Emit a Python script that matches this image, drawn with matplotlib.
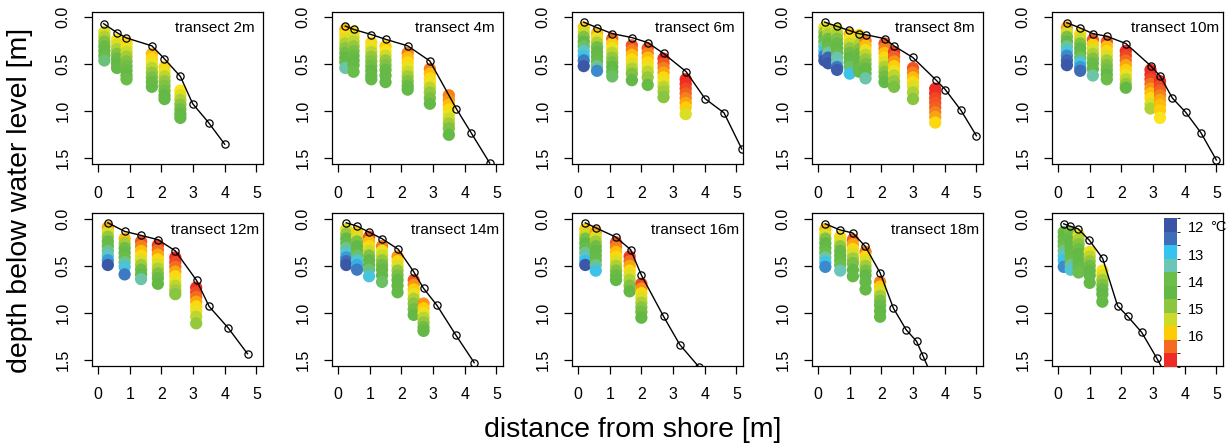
import numpy as np
import matplotlib.pyplot as plt
from matplotlib.colors import LinearSegmentedColormap, ListedColormap, BoundaryNorm

plt.rcParams['font.family'] = ['Liberation Sans', 'DejaVu Sans']

# --------------------
# colour scale (legend blocks)
# --------------------
legend_edges = [11.67, 12.17, 12.67, 13.17, 13.67, 14.17, 14.67, 15.17, 15.67, 16.17, 16.67, 17.17]
legend_colors = ['#3A53A4', '#3F6EB8', '#35C3F0', '#6CC6B5', '#6CBE4B', '#63B946',
                 '#8CC540', '#CBDB2A', '#FFCB05', '#F26B21', '#EE2A24']
legend_ticks = [12, 13, 14, 15, 16]

# dot colours: same anchors + the bright yellow seen in the profiles
ramp_temps = [11.92, 12.42, 12.92, 13.42, 13.92, 14.42, 14.92, 15.42, 15.7, 15.92, 16.42, 16.92]
ramp_colors = ['#3A53A4', '#3F6EB8', '#35C3F0', '#6CC6B5', '#6CBE4B', '#63B946',
               '#8CC540', '#CBDB2A', '#FBE41A', '#FFCB05', '#F26B21', '#EE2A24']

# --------------------
# transect 2m
# --------------------
t2_prof_x = [0.18, 0.60, 0.89, 1.70, 2.09, 2.60, 2.99, 3.49, 4.00]
t2_prof_z = [0.07, 0.165, 0.22, 0.305, 0.44, 0.63, 0.92, 1.12, 1.35]
t2_col_x = [0.20, 0.60, 0.90, 1.70, 2.10, 2.60]
t2_col_z = [[0.16, 0.21, 0.26, 0.31, 0.36, 0.41, 0.46],
            [0.24, 0.29, 0.34, 0.39, 0.44, 0.49, 0.54],
            [0.27, 0.32, 0.37, 0.42, 0.47, 0.52, 0.57, 0.62, 0.66],
            [0.39, 0.44, 0.49, 0.54, 0.59, 0.64, 0.69, 0.74],
            [0.53, 0.58, 0.63, 0.68, 0.73, 0.78, 0.83, 0.87],
            [0.78, 0.83, 0.88, 0.93, 0.98, 1.03, 1.07]]
t2_col_t = [[15.5, 15.2, 14.8, 14.5, 14.3, 14.2, 13.7],
            [15.7, 15.5, 15.2, 14.8, 14.5, 14.4, 14.3],
            [15.8, 15.6, 15.4, 15.1, 14.8, 14.6, 14.5, 14.4, 14.0],
            [16.0, 15.8, 15.6, 15.3, 15.0, 14.7, 14.5, 14.3],
            [15.8, 15.6, 15.3, 15.0, 14.8, 14.6, 14.4, 14.3],
            [15.7, 15.5, 15.2, 14.9, 14.6, 14.4, 14.3]]

# --------------------
# transect 4m
# --------------------
t4_prof_x = [0.23, 0.49, 1.05, 1.50, 2.20, 2.90, 3.74, 4.20, 4.79]
t4_prof_z = [0.095, 0.13, 0.185, 0.235, 0.305, 0.466, 0.975, 1.227, 1.55]
t4_col_x = [0.23, 0.49, 1.05, 1.50, 2.20, 2.90, 3.50]
t4_col_z = [[0.13, 0.18, 0.23, 0.28, 0.33, 0.38, 0.43, 0.48, 0.54],
            [0.16, 0.21, 0.26, 0.31, 0.36, 0.41, 0.46, 0.51, 0.58],
            [0.27, 0.32, 0.37, 0.42, 0.47, 0.52, 0.57, 0.62, 0.66],
            [0.31, 0.36, 0.41, 0.46, 0.51, 0.56, 0.62, 0.69],
            [0.38, 0.43, 0.48, 0.53, 0.58, 0.63, 0.68, 0.73, 0.77],
            [0.55, 0.60, 0.65, 0.70, 0.75, 0.80, 0.86, 0.92],
            [0.83, 0.88, 0.93, 0.98, 1.03, 1.08, 1.13, 1.18, 1.25]]
t4_col_t = [[16.0, 15.8, 15.5, 15.2, 14.9, 14.6, 14.4, 14.3, 13.5],
            [15.8, 15.5, 15.3, 15.0, 14.7, 14.5, 14.4, 14.3, 14.0],
            [15.8, 15.6, 15.3, 15.0, 14.8, 14.6, 14.4, 14.3, 14.3],
            [15.9, 15.7, 15.4, 15.0, 14.8, 14.5, 14.3, 14.3],
            [16.3, 16.0, 15.8, 15.6, 15.4, 15.1, 14.8, 14.5, 14.3],
            [16.3, 16.0, 15.8, 15.6, 15.3, 15.0, 14.7, 14.3],
            [16.3, 16.2, 16.0, 15.8, 15.6, 15.4, 15.1, 14.8, 14.3]]

# --------------------
# transect 6m
# --------------------
t6_prof_x = [0.18, 0.60, 1.08, 1.70, 2.20, 2.70, 3.41, 4.01, 4.61, 5.17]
t6_prof_z = [0.053, 0.112, 0.175, 0.217, 0.27, 0.386, 0.578, 0.866, 1.017, 1.40]
t6_col_x = [0.18, 0.60, 1.08, 1.70, 2.20, 2.70, 3.40]
t6_col_z = [[0.11, 0.16, 0.21, 0.26, 0.31, 0.36, 0.41, 0.46, 0.52],
            [0.17, 0.22, 0.27, 0.32, 0.37, 0.42, 0.47, 0.52, 0.57],
            [0.23, 0.28, 0.33, 0.38, 0.43, 0.48, 0.53, 0.58, 0.63],
            [0.30, 0.35, 0.40, 0.45, 0.50, 0.55, 0.60, 0.67],
            [0.33, 0.38, 0.43, 0.48, 0.53, 0.58, 0.64, 0.72],
            [0.44, 0.49, 0.54, 0.59, 0.64, 0.69, 0.74, 0.79, 0.85],
            [0.66, 0.71, 0.76, 0.81, 0.86, 0.91, 0.96, 1.03]]
t6_col_t = [[15.9, 15.4, 14.8, 14.4, 13.8, 13.3, 13.0, 12.5, 12.0],
            [16.0, 15.6, 15.2, 14.6, 14.4, 14.3, 14.2, 13.6, 12.6],
            [16.5, 15.9, 15.6, 15.3, 15.0, 14.7, 14.4, 14.2, 13.8],
            [16.6, 16.3, 16.0, 15.8, 15.5, 15.2, 14.8, 14.4],
            [16.6, 16.3, 16.0, 15.8, 15.6, 15.3, 15.0, 14.5],
            [16.9, 16.6, 16.3, 16.1, 15.8, 15.6, 15.3, 15.1, 14.9],
            [17.0, 16.9, 16.7, 16.5, 16.3, 16.1, 15.9, 15.5]]

# --------------------
# transect 8m
# --------------------
t8_prof_x = [0.21, 0.60, 0.97, 1.29, 1.50, 2.10, 2.41, 2.99, 3.72, 4.02, 4.51, 5.00]
t8_prof_z = [0.053, 0.098, 0.14, 0.175, 0.186, 0.228, 0.308, 0.428, 0.666, 0.77, 0.988, 1.26]
t8_col_x = [0.20, 0.32, 0.60, 1.00, 1.30, 1.50, 2.10, 2.40, 3.00, 3.70]
t8_col_z = [[0.11, 0.16, 0.21, 0.26, 0.31, 0.36, 0.41, 0.46],
            [0.13, 0.18, 0.23, 0.28, 0.33, 0.38, 0.43, 0.49],
            [0.13, 0.18, 0.23, 0.28, 0.33, 0.38, 0.43, 0.48, 0.53, 0.56],
            [0.18, 0.23, 0.28, 0.33, 0.38, 0.43, 0.48, 0.53, 0.60],
            [0.19, 0.24, 0.29, 0.34, 0.39, 0.44, 0.49, 0.54, 0.58],
            [0.25, 0.30, 0.35, 0.40, 0.45, 0.50, 0.55, 0.60, 0.65],
            [0.28, 0.33, 0.38, 0.43, 0.48, 0.53, 0.58, 0.63, 0.69],
            [0.37, 0.42, 0.47, 0.52, 0.57, 0.62, 0.68, 0.74],
            [0.54, 0.59, 0.64, 0.69, 0.74, 0.80, 0.87],
            [0.76, 0.81, 0.86, 0.91, 0.96, 1.01, 1.06, 1.12]]
t8_col_t = [[15.6, 15.0, 14.5, 14.0, 13.5, 13.0, 12.5, 12.0],
            [15.5, 15.2, 14.6, 14.3, 14.0, 13.5, 12.3, 12.0],
            [15.5, 15.2, 14.8, 14.5, 14.3, 14.2, 13.5, 13.4, 12.5, 12.1],
            [16.0, 15.7, 15.4, 15.0, 14.6, 14.4, 14.3, 13.8, 13.0],
            [15.8, 15.5, 15.2, 14.8, 14.5, 14.3, 14.3, 14.2, 14.2],
            [16.3, 16.0, 15.6, 15.3, 15.0, 14.7, 14.4, 14.3, 13.5],
            [16.6, 16.3, 16.0, 15.8, 15.5, 15.2, 14.9, 14.6, 14.4],
            [16.8, 16.5, 16.2, 15.9, 15.6, 15.3, 15.0, 14.7],
            [16.6, 16.3, 16.0, 15.8, 15.5, 15.2, 14.9],
            [17.0, 16.9, 16.7, 16.6, 16.5, 16.3, 16.1, 15.8]]

# --------------------
# transect 10m
# --------------------
t10_prof_x = [0.28, 0.68, 1.10, 1.54, 2.14, 2.92, 3.22, 3.61, 4.03, 4.51, 5.00]
t10_prof_z = [0.06, 0.112, 0.175, 0.203, 0.28, 0.515, 0.624, 0.859, 1.01, 1.227, 1.518]
t10_col_x = [0.28, 0.70, 1.10, 1.54, 2.14, 2.92, 3.22]
t10_col_z = [[0.11, 0.16, 0.21, 0.26, 0.31, 0.36, 0.41, 0.46, 0.51],
             [0.18, 0.23, 0.28, 0.33, 0.38, 0.43, 0.48, 0.53, 0.57],
             [0.24, 0.29, 0.34, 0.39, 0.44, 0.49, 0.55, 0.62],
             [0.26, 0.31, 0.36, 0.41, 0.46, 0.51, 0.56, 0.61, 0.66],
             [0.36, 0.41, 0.46, 0.51, 0.56, 0.61, 0.66, 0.71, 0.75],
             [0.56, 0.61, 0.66, 0.71, 0.76, 0.81, 0.86, 0.92, 0.97],
             [0.68, 0.73, 0.78, 0.83, 0.88, 0.93, 0.99, 1.07]]
t10_col_t = [[16.1, 15.5, 14.7, 14.3, 13.6, 13.1, 12.6, 12.3, 12.0],
             [15.8, 15.4, 14.8, 14.4, 14.3, 13.8, 13.1, 12.7, 12.4],
             [16.6, 15.9, 15.5, 15.2, 14.8, 14.5, 14.3, 13.5],
             [16.6, 16.0, 15.8, 15.5, 15.1, 14.8, 14.6, 14.4, 14.0],
             [16.9, 16.7, 16.4, 16.1, 15.9, 15.6, 15.3, 15.0, 14.4],
             [17.0, 16.9, 16.7, 16.4, 16.2, 16.0, 15.8, 15.5, 15.2],
             [16.9, 16.7, 16.5, 16.3, 16.1, 16.0, 15.9, 15.7]]

# --------------------
# transect 12m
# --------------------
t12_prof_x = [0.31, 0.84, 1.36, 1.89, 2.44, 3.11, 3.51, 4.11, 4.72]
t12_prof_z = [0.042, 0.133, 0.176, 0.221, 0.34, 0.653, 0.931, 1.159, 1.433]
t12_col_x = [0.31, 0.84, 1.36, 1.89, 2.44, 3.10]
t12_col_z = [[0.09, 0.14, 0.19, 0.24, 0.29, 0.34, 0.39, 0.44, 0.49],
             [0.21, 0.26, 0.31, 0.36, 0.41, 0.46, 0.51, 0.59],
             [0.24, 0.29, 0.34, 0.39, 0.44, 0.49, 0.54, 0.59, 0.64],
             [0.28, 0.33, 0.38, 0.43, 0.48, 0.53, 0.58, 0.63, 0.69],
             [0.41, 0.46, 0.51, 0.56, 0.61, 0.66, 0.71, 0.76, 0.80],
             [0.73, 0.78, 0.83, 0.88, 0.93, 0.98, 1.04, 1.11]]
t12_col_t = [[16.1, 15.5, 15.0, 14.5, 14.2, 13.6, 13.3, 12.7, 12.0],
             [16.0, 15.1, 14.6, 14.3, 14.0, 13.6, 13.1, 12.5],
             [16.6, 16.3, 16.0, 15.8, 15.5, 15.1, 14.6, 14.3, 13.5],
             [16.8, 16.4, 16.1, 15.8, 15.5, 15.2, 14.8, 14.5, 14.4],
             [16.9, 16.7, 16.4, 16.1, 15.8, 15.6, 15.3, 15.1, 14.9],
             [16.9, 16.7, 16.4, 16.1, 15.8, 15.6, 15.3, 15.0]]

# --------------------
# transect 14m
# --------------------
t14_prof_x = [0.26, 0.60, 0.97, 1.39, 1.90, 2.39, 2.70, 3.12, 3.71, 4.30]
t14_prof_z = [0.042, 0.077, 0.14, 0.211, 0.323, 0.562, 0.738, 0.917, 1.229, 1.528]
t14_col_x = [0.26, 0.60, 0.98, 1.39, 1.88, 2.39, 2.70]
t14_col_z = [[0.11, 0.16, 0.21, 0.26, 0.31, 0.36, 0.41, 0.45, 0.49],
             [0.14, 0.19, 0.24, 0.29, 0.34, 0.39, 0.44, 0.49, 0.54],
             [0.19, 0.24, 0.29, 0.34, 0.39, 0.44, 0.49, 0.54, 0.61],
             [0.29, 0.34, 0.39, 0.44, 0.49, 0.54, 0.60, 0.67],
             [0.40, 0.45, 0.50, 0.55, 0.60, 0.65, 0.71, 0.78],
             [0.65, 0.70, 0.75, 0.80, 0.85, 0.90, 0.96, 1.02],
             [0.90, 0.95, 1.00, 1.05, 1.10, 1.15, 1.19]]
t14_col_t = [[15.5, 15.0, 14.4, 14.2, 13.6, 13.2, 12.7, 12.4, 12.0],
             [15.9, 15.5, 14.8, 14.4, 14.3, 13.8, 13.2, 12.8, 12.5],
             [16.6, 16.0, 15.8, 15.4, 14.8, 14.4, 14.3, 13.7, 13.1],
             [16.3, 15.6, 15.4, 15.0, 14.6, 14.4, 14.3, 13.8],
             [16.2, 15.8, 15.5, 15.0, 14.7, 14.4, 14.4, 14.3],
             [16.6, 16.2, 15.9, 15.6, 15.2, 14.9, 14.6, 14.4],
             [16.2, 15.9, 15.6, 15.3, 15.0, 14.6, 14.4]]

# --------------------
# transect 16m
# --------------------
t16_prof_x = [0.23, 0.56, 1.19, 1.66, 2.00, 2.70, 3.21, 3.81]
t16_prof_z = [0.042, 0.095, 0.193, 0.327, 0.597, 1.036, 1.335, 1.57]
t16_col_x = [0.23, 0.56, 1.20, 1.63, 2.00]
t16_col_z = [[0.11, 0.16, 0.21, 0.26, 0.31, 0.36, 0.41, 0.45, 0.49],
             [0.14, 0.19, 0.24, 0.29, 0.34, 0.39, 0.44, 0.49, 0.55],
             [0.25, 0.30, 0.35, 0.40, 0.45, 0.50, 0.55, 0.60, 0.65],
             [0.40, 0.45, 0.50, 0.55, 0.60, 0.65, 0.71, 0.77],
             [0.69, 0.74, 0.79, 0.84, 0.89, 0.94, 0.99, 1.05]]
t16_col_t = [[15.9, 15.4, 14.7, 14.4, 14.2, 13.6, 13.3, 12.9, 12.0],
             [16.1, 15.5, 15.1, 14.6, 14.4, 14.3, 14.2, 13.6, 13.0],
             [16.6, 16.3, 16.0, 15.8, 15.5, 15.2, 14.8, 14.5, 14.4],
             [16.8, 16.4, 16.1, 15.8, 15.5, 15.2, 14.8, 14.4],
             [16.7, 16.2, 15.8, 15.5, 15.2, 14.9, 14.6, 14.4]]

# --------------------
# transect 18m
# --------------------
t18_prof_x = [0.23, 0.68, 1.10, 1.49, 1.96, 2.38, 2.78, 3.11, 3.32, 3.70]
t18_prof_z = [0.053, 0.116, 0.151, 0.292, 0.573, 0.949, 1.177, 1.30, 1.46, 1.75]
t18_col_x = [0.23, 0.70, 1.10, 1.50, 1.96]
t18_col_z = [[0.11, 0.16, 0.21, 0.26, 0.31, 0.36, 0.41, 0.46, 0.51],
             [0.19, 0.24, 0.29, 0.34, 0.39, 0.44, 0.49, 0.55],
             [0.22, 0.27, 0.32, 0.37, 0.42, 0.47, 0.54, 0.61],
             [0.35, 0.40, 0.45, 0.50, 0.55, 0.60, 0.67, 0.75],
             [0.67, 0.72, 0.77, 0.82, 0.87, 0.92, 0.98, 1.04]]
t18_col_t = [[16.0, 15.5, 14.8, 14.4, 14.3, 14.0, 13.5, 13.0, 12.6],
             [15.8, 15.5, 15.0, 14.5, 14.3, 14.2, 13.9, 13.4],
             [16.5, 16.1, 15.8, 15.5, 15.1, 14.7, 14.4, 14.3],
             [16.3, 15.8, 15.5, 15.1, 14.7, 14.4, 14.3, 14.3],
             [16.3, 15.9, 15.5, 15.1, 14.7, 14.5, 14.4, 14.3]]

# --------------------
# transect 20m (no label, holds the colour legend)
# --------------------
t20_prof_x = [0.18, 0.37, 0.63, 0.99, 1.41, 1.88, 2.20, 2.64, 3.11, 3.50]
t20_prof_z = [0.053, 0.077, 0.105, 0.228, 0.421, 0.924, 1.036, 1.205, 1.475, 1.72]
t20_col_x = [0.18, 0.40, 0.65, 1.00, 1.40]
t20_col_z = [[0.14, 0.19, 0.24, 0.29, 0.34, 0.39, 0.44, 0.51],
             [0.14, 0.19, 0.24, 0.29, 0.34, 0.39, 0.44, 0.49, 0.54],
             [0.17, 0.22, 0.27, 0.32, 0.37, 0.42, 0.47, 0.52, 0.57],
             [0.35, 0.40, 0.45, 0.50, 0.55, 0.60, 0.68],
             [0.55, 0.60, 0.65, 0.70, 0.75, 0.80, 0.88]]
t20_col_t = [[14.5, 14.4, 14.3, 14.0, 13.6, 13.3, 13.0, 12.6],
             [14.8, 14.5, 14.4, 14.3, 14.3, 14.2, 14.0, 13.6, 13.2],
             [15.5, 15.2, 14.9, 14.6, 14.4, 14.3, 14.3, 14.2, 13.9],
             [15.6, 15.3, 15.0, 14.6, 14.4, 14.3, 14.3],
             [15.7, 15.5, 15.1, 14.8, 14.5, 14.4, 14.3]]

panel_labels = ['transect 2m', 'transect 4m', 'transect 6m', 'transect 8m', 'transect 10m',
                'transect 12m', 'transect 14m', 'transect 16m', 'transect 18m', '']
panels = [
    (t2_prof_x, t2_prof_z, t2_col_x, t2_col_z, t2_col_t),
    (t4_prof_x, t4_prof_z, t4_col_x, t4_col_z, t4_col_t),
    (t6_prof_x, t6_prof_z, t6_col_x, t6_col_z, t6_col_t),
    (t8_prof_x, t8_prof_z, t8_col_x, t8_col_z, t8_col_t),
    (t10_prof_x, t10_prof_z, t10_col_x, t10_col_z, t10_col_t),
    (t12_prof_x, t12_prof_z, t12_col_x, t12_col_z, t12_col_t),
    (t14_prof_x, t14_prof_z, t14_col_x, t14_col_z, t14_col_t),
    (t16_prof_x, t16_prof_z, t16_col_x, t16_col_z, t16_col_t),
    (t18_prof_x, t18_prof_z, t18_col_x, t18_col_z, t18_col_t),
    (t20_prof_x, t20_prof_z, t20_col_x, t20_col_z, t20_col_t),
]

# --------------------
# plotting
# --------------------
W, H = 1229, 447
fig = plt.figure(figsize=(W / 100, H / 100), dpi=100)

ramp_pos = [(t - ramp_temps[0]) / (ramp_temps[-1] - ramp_temps[0]) for t in ramp_temps]
cmap = LinearSegmentedColormap.from_list('temp', list(zip(ramp_pos, ramp_colors)))

box_left = [91.7, 331.7, 571.7, 811.7, 1051.7]
box_bottom = [164.0, 365.7]
box_w, box_h = 171.0, 152.5

for i, (px, pz, cx, cz, ct) in enumerate(panels):
    row, col = divmod(i, 5)
    ax = fig.add_axes([box_left[col] / W, 1 - box_bottom[row] / H, box_w / W, box_h / H])

    # temperature profiles, drawn top to bottom
    for x, zs, ts in zip(cx, cz, ct):
        ax.scatter([x] * len(zs), zs, c=ts, cmap=cmap,
                   vmin=ramp_temps[0], vmax=ramp_temps[-1],
                   s=78, linewidths=0, zorder=2)

    # shore profile
    ax.plot(px, pz, color='black', lw=1.0, marker='o', markersize=5.2,
            markerfacecolor='none', markeredgecolor='black', markeredgewidth=0.9, zorder=3)

    if panel_labels[i]:
        ax.text(3.7, 0.12, panel_labels[i], ha='center', va='center', fontsize=11)

    ax.set_xlim(-0.2, 5.2)
    ax.set_ylim(1.56, -0.06)
    ax.set_xticks([0, 1, 2, 3, 4, 5])
    ax.set_yticks([0.0, 0.5, 1.0, 1.5])
    ax.set_yticklabels(['0.0', '0.5', '1.0', '1.5'])
    ax.tick_params(direction='out', length=5.5, width=0.9, labelsize=11.5)
    ax.tick_params(axis='x', pad=10)
    ax.tick_params(axis='y', labelrotation=90, pad=9.5)
    for lab in ax.get_yticklabels():
        lab.set_va('center')
    for sp in ax.spines.values():
        sp.set_linewidth(0.9)

    if i == 9:
        cax = fig.add_axes([1164 / W, 1 - 367 / H, 13 / W, 149 / H])
        lcmap = ListedColormap(legend_colors)
        norm = BoundaryNorm(legend_edges, lcmap.N)
        cb = fig.colorbar(plt.cm.ScalarMappable(norm=norm, cmap=lcmap), cax=cax,
                          ticks=legend_ticks, spacing='proportional')
        cb.outline.set_visible(False)
        cax.invert_yaxis()
        cax.tick_params(length=0, labelsize=10.5, pad=8)
        fig.text(1210.5 / W, 1 - 227 / H, '°C', fontsize=10.5, ha='left', va='center')

fig.text(633 / W, 1 - 430 / H, 'distance from shore [m]', fontsize=20.5, ha='center', va='center')
fig.text(20 / W, 1 - 200 / H, 'depth below water level [m]', fontsize=20.5,
         ha='center', va='center', rotation=90)

fig.savefig('out.png', dpi=100)
